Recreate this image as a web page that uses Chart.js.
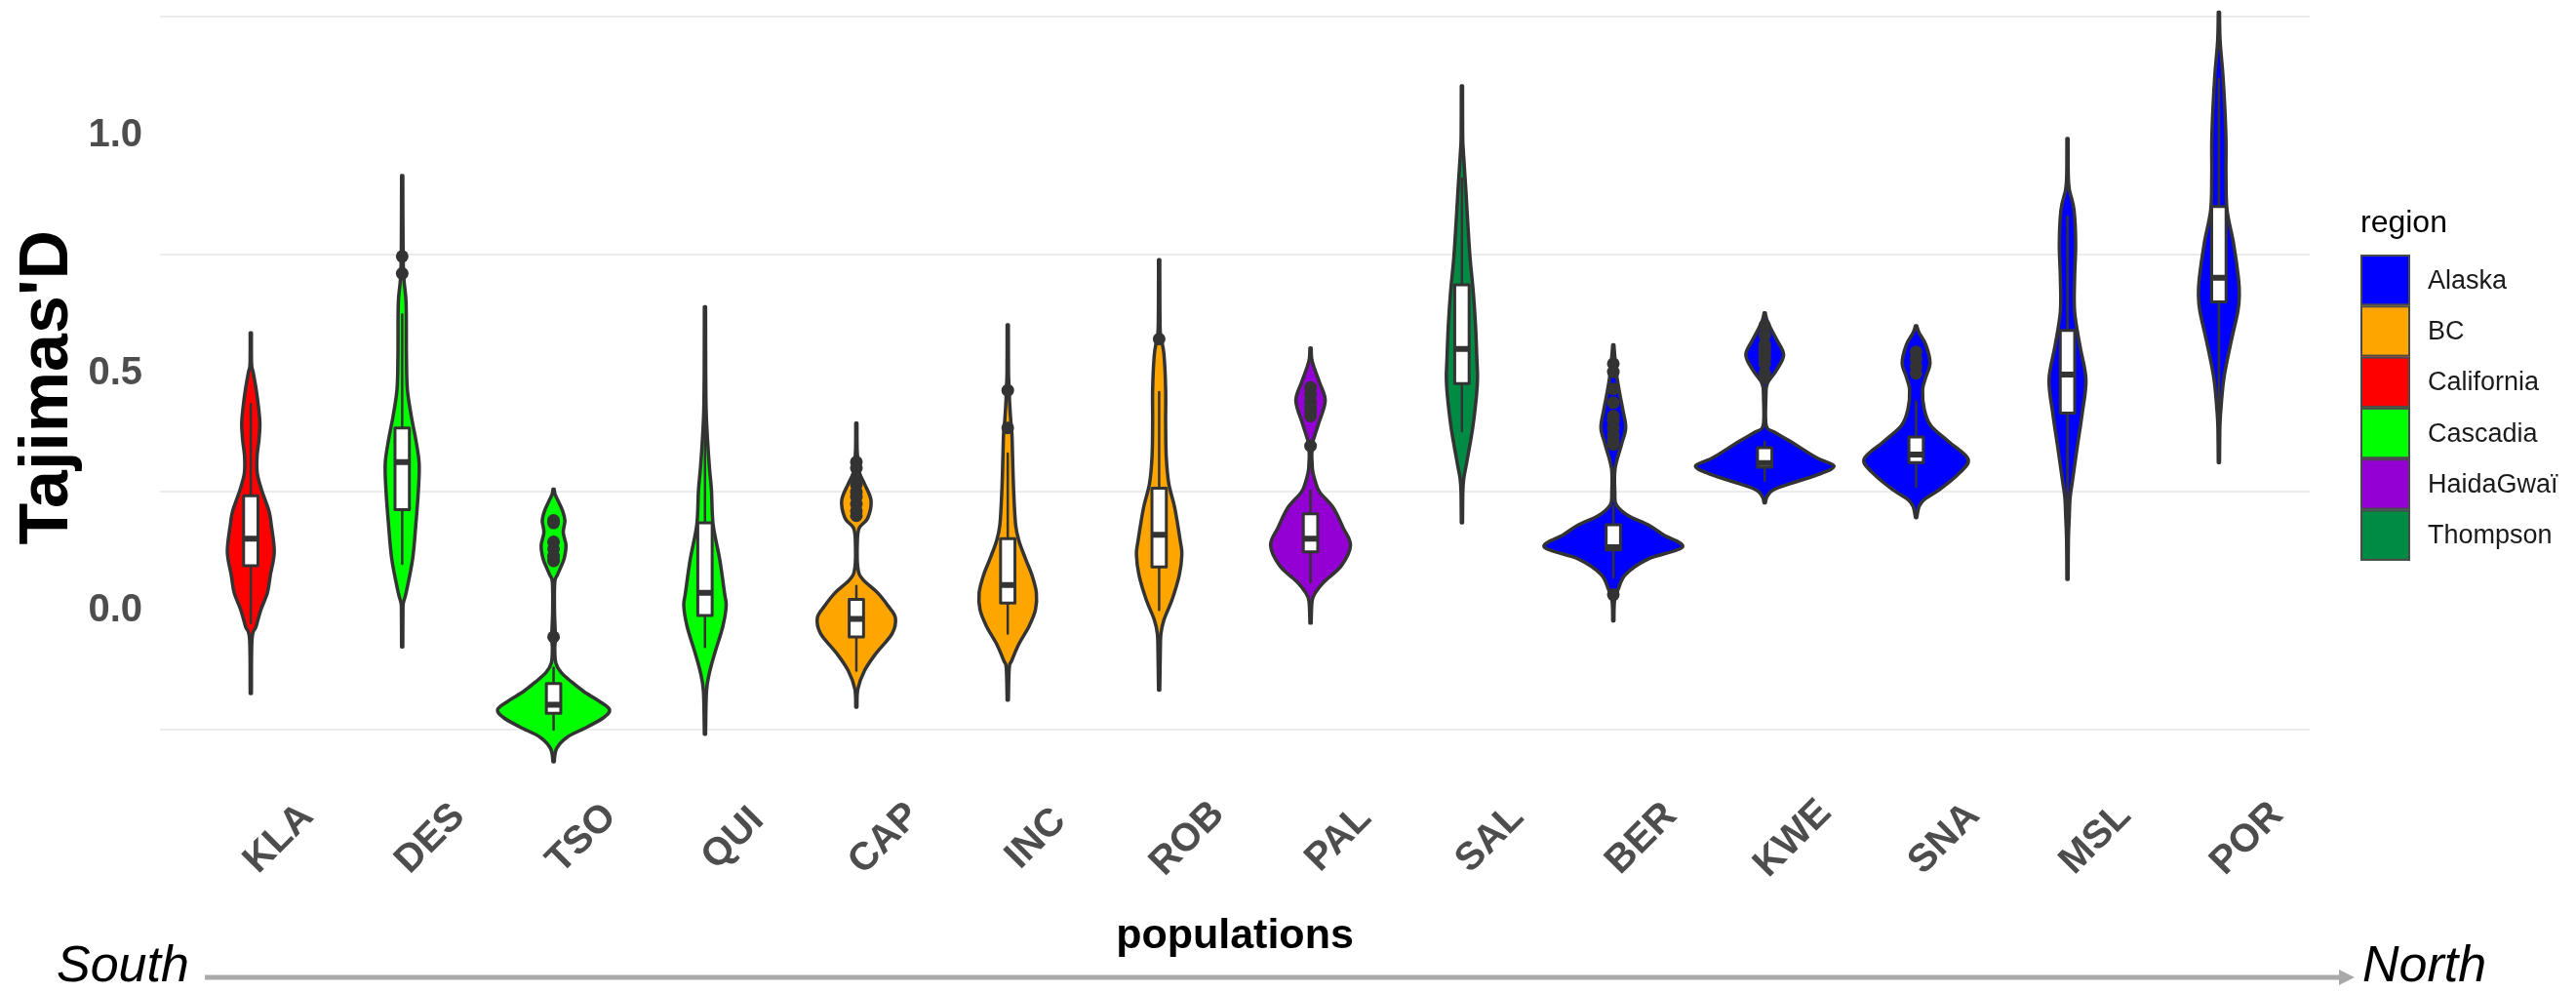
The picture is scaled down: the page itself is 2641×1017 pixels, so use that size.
<!DOCTYPE html>
<html>
<head>
<meta charset="utf-8">
<script src="https://cdn.jsdelivr.net/npm/chart.js@4.4.1/dist/chart.umd.min.js"></script>
<style>
  html, body { margin: 0; padding: 0; background: #ffffff; overflow: hidden; width: 2641px; height: 1017px; }
  #wrap { position: absolute; left: 0; top: -32px; width: 2641px; height: 1049px; }
</style>
</head>
<body>
<div id="wrap"><canvas id="chart" width="2641" height="1049"></canvas></div>
<script>
// ---- categories and groups ----
const populations = ['KLA', 'DES', 'TSO', 'QUI', 'CAP', 'INC', 'ROB', 'PAL', 'SAL', 'BER', 'KWE', 'SNA', 'MSL', 'POR'];
const populationRegion = ['California', 'Cascadia', 'Cascadia', 'Cascadia', 'BC', 'BC', 'BC',
  'HaidaGwaï', 'Thompson', 'Alaska', 'Alaska', 'Alaska', 'Alaska', 'Alaska'];
const regions = ['Alaska', 'BC', 'California', 'Cascadia', 'HaidaGwaï', 'Thompson'];
const regionColors = ['#0000FF', '#FFA500', '#FF0000', '#00FF00', '#9400D3', '#008B45'];

// ---- y axis ----
const yMin = -0.398;
const yMax = 1.338;
const yTickLabels = [0, 0.5, 1.0];
const yGridValues = [-0.25, 0.25, 0.75, 1.25];

// ---- violin outlines: [Tajima's D, half width in category units] ----
const violinKLA = [[-0.174, 0.004], [-0.06, 0.008], [-0.033, 0.035], [0.0025, 0.067], [0.038, 0.11], [0.075, 0.129],
  [0.124, 0.155], [0.181, 0.135], [0.21, 0.12], [0.253, 0.073], [0.289, 0.043], [0.324, 0.041], [0.36, 0.054],
  [0.395, 0.06], [0.431, 0.05], [0.467, 0.035], [0.503, 0.015], [0.52, 0.005], [0.585, 0.004]];
const violinDES = [[-0.076, 0.004], [0.0, 0.005], [0.017, 0.008], [0.038, 0.026], [0.109, 0.069], [0.181, 0.09],
  [0.253, 0.107], [0.31, 0.112], [0.36, 0.09], [0.41, 0.06], [0.467, 0.034], [0.539, 0.028], [0.646, 0.026],
  [0.696, 0.012], [0.75, 0.006], [0.916, 0.004]];
const violinTSO = [[-0.318, 0.004], [-0.29, 0.02], [-0.266, 0.09], [-0.245, 0.22], [-0.225, 0.33], [-0.208, 0.37],
  [-0.19, 0.30], [-0.17, 0.20], [-0.15, 0.12], [-0.13, 0.05], [-0.11, 0.015], [-0.08, 0.008], [-0.055, 0.012],
  [0.0, 0.006], [0.06, 0.008], [0.075, 0.025], [0.09, 0.045], [0.11, 0.07], [0.138, 0.082], [0.165, 0.064],
  [0.19, 0.075], [0.21, 0.06], [0.23, 0.032], [0.245, 0.01], [0.256, 0.004]];
const violinQUI = [[-0.26, 0.004], [-0.17, 0.01], [-0.13, 0.03], [-0.09, 0.064], [-0.033, 0.118], [0.01, 0.14],
  [0.038, 0.129], [0.109, 0.097], [0.181, 0.054], [0.253, 0.043], [0.30, 0.03], [0.36, 0.017], [0.42, 0.008],
  [0.50, 0.005], [0.64, 0.004]];
const violinCAP = [[-0.203, 0.004], [-0.165, 0.01], [-0.126, 0.054], [-0.09, 0.129], [-0.048, 0.236], [-0.015, 0.258],
  [0.01, 0.21], [0.038, 0.14], [0.066, 0.043], [0.09, 0.01], [0.15, 0.007], [0.175, 0.02], [0.195, 0.075],
  [0.232, 0.097], [0.267, 0.054], [0.29, 0.02], [0.313, 0.012], [0.34, 0.005], [0.395, 0.004]];
const violinINC = [[-0.188, 0.004], [-0.12, 0.01], [-0.105, 0.026], [-0.069, 0.075], [-0.033, 0.14], [0.002, 0.183],
  [0.038, 0.189], [0.075, 0.16], [0.109, 0.118], [0.146, 0.075], [0.181, 0.052], [0.253, 0.039], [0.324, 0.032],
  [0.37, 0.028], [0.40, 0.02], [0.44, 0.012], [0.464, 0.01], [0.50, 0.005], [0.602, 0.004]];
const violinROB = [[-0.167, 0.004], [-0.08, 0.008], [-0.048, 0.012], [-0.019, 0.032], [0.024, 0.086], [0.075, 0.133],
  [0.118, 0.15], [0.146, 0.14], [0.217, 0.103], [0.267, 0.064], [0.324, 0.047], [0.395, 0.043], [0.467, 0.043],
  [0.539, 0.032], [0.572, 0.015], [0.60, 0.006], [0.739, 0.004]];
const violinPAL = [[-0.026, 0.004], [0.02, 0.01], [0.038, 0.032], [0.06, 0.086], [0.095, 0.204], [0.138, 0.264],
  [0.175, 0.215], [0.217, 0.15], [0.25, 0.06], [0.274, 0.03], [0.30, 0.012], [0.347, 0.01], [0.367, 0.026],
  [0.395, 0.054], [0.442, 0.097], [0.48, 0.06], [0.51, 0.026], [0.53, 0.008], [0.553, 0.004]];
const violinSAL = [[0.185, 0.004], [0.25, 0.006], [0.278, 0.012], [0.313, 0.032], [0.385, 0.071], [0.456, 0.097],
  [0.492, 0.103], [0.528, 0.099], [0.599, 0.09], [0.671, 0.075], [0.742, 0.054], [0.814, 0.039], [0.885, 0.026],
  [0.964, 0.01], [1.00, 0.005], [1.105, 0.004]];
const violinBER = [[-0.021, 0.004], [0.02, 0.008], [0.046, 0.033], [0.077, 0.082], [0.109, 0.23], [0.134, 0.457],
  [0.16, 0.33], [0.181, 0.23], [0.20, 0.10], [0.223, 0.02], [0.25, 0.01], [0.30, 0.012], [0.35, 0.054],
  [0.385, 0.082], [0.421, 0.064], [0.456, 0.043], [0.49, 0.025], [0.528, 0.012], [0.56, 0.004]];
const violinKWE = [[0.227, 0.004], [0.24, 0.015], [0.254, 0.054], [0.268, 0.172], [0.288, 0.365], [0.305, 0.457],
  [0.322, 0.343], [0.356, 0.172], [0.376, 0.064], [0.39, 0.01], [0.45, 0.008], [0.478, 0.017], [0.505, 0.075],
  [0.539, 0.125], [0.573, 0.075], [0.607, 0.02], [0.627, 0.004]];
const violinSNA = [[0.196, 0.004], [0.22, 0.02], [0.234, 0.054], [0.254, 0.15], [0.288, 0.28], [0.319, 0.344],
  [0.356, 0.215], [0.39, 0.097], [0.424, 0.054], [0.465, 0.043], [0.492, 0.064], [0.522, 0.092], [0.56, 0.064],
  [0.585, 0.02], [0.600, 0.004]];
const violinMSL = [[0.066, 0.004], [0.15, 0.006], [0.20, 0.012], [0.237, 0.017], [0.272, 0.032], [0.344, 0.064],
  [0.415, 0.097], [0.487, 0.122], [0.558, 0.082], [0.63, 0.047], [0.701, 0.047], [0.773, 0.054], [0.844, 0.043],
  [0.887, 0.012], [0.92, 0.005], [0.994, 0.004]];
const violinPOR = [[0.312, 0.004], [0.38, 0.006], [0.415, 0.011], [0.487, 0.032], [0.558, 0.075], [0.63, 0.125],
  [0.665, 0.135], [0.701, 0.129], [0.773, 0.097], [0.844, 0.054], [0.916, 0.047], [0.988, 0.047], [1.059, 0.039],
  [1.13, 0.026], [1.2, 0.008], [1.26, 0.004]];
const violins = [violinKLA, violinDES, violinTSO, violinQUI, violinCAP, violinINC, violinROB,
  violinPAL, violinSAL, violinBER, violinKWE, violinSNA, violinMSL, violinPOR];

// ---- box plot summaries ----
const whiskerLow  = [-0.026, 0.099, -0.25, -0.076, -0.126, -0.048, 0.002, 0.06, 0.378, 0.07, 0.274, 0.261, 0.17, 0.42];
const q1          = [0.095, 0.213, -0.216, -0.010, -0.055, 0.016, 0.092, 0.124, 0.478, 0.128, 0.302, 0.312, 0.416, 0.65];
const medians     = [0.152, 0.313, -0.198, 0.038, -0.017, 0.054, 0.160, 0.152, 0.551, 0.134, 0.311, 0.329, 0.497, 0.701];
const q3          = [0.242, 0.385, -0.153, 0.185, 0.024, 0.152, 0.258, 0.204, 0.686, 0.181, 0.343, 0.366, 0.59, 0.851];
const whiskerHigh = [0.435, 0.624, -0.12, 0.40, 0.052, 0.331, 0.46, 0.253, 0.91, 0.221, 0.356, 0.44, 0.83, 1.12];

// ---- outliers ----
const outliersKLA = [];
const outliersDES = [0.746, 0.71];
const outliersTSO = [0.19, 0.185, 0.145, 0.13, 0.115, 0.105, -0.055];
const outliersQUI = [];
const outliersCAP = [0.313, 0.30, 0.28, 0.265, 0.25, 0.24, 0.225, 0.21, 0.20];
const outliersINC = [0.464, 0.385];
const outliersROB = [0.572];
const outliersPAL = [0.47, 0.455, 0.44, 0.43, 0.42, 0.41, 0.347];
const outliersSAL = [];
const outliersBER = [0.52, 0.503, 0.467, 0.438, 0.41, 0.40, 0.385, 0.37, 0.36, 0.35, 0.034];
const outliersKWE = [0.60, 0.58, 0.56, 0.55, 0.54, 0.53, 0.52, 0.50, 0.49];
const outliersSNA = [0.545, 0.53, 0.515, 0.50];
const outliersMSL = [];
const outliersPOR = [];
const outliers = [outliersKLA, outliersDES, outliersTSO, outliersQUI, outliersCAP, outliersINC, outliersROB,
  outliersPAL, outliersSAL, outliersBER, outliersKWE, outliersSNA, outliersMSL, outliersPOR];

// ---- styling ----
const INK = '#333333';
const FONT = '"Liberation Sans", Arial, Helvetica, sans-serif';
const SHIFT = 32;          // canvas sits 32px above the page top
const BOX_WIDTH = 0.095;   // category units

function fillFor(i) {
  return regionColors[regions.indexOf(populationRegion[i])];
}

// open Catmull-Rom spline through pts (path must already be at pts[0])
function splineThrough(ctx, pts) {
  const n = pts.length;
  for (let i = 0; i < n - 1; i++) {
    const p0 = pts[Math.max(i - 1, 0)], p1 = pts[i], p2 = pts[i + 1], p3 = pts[Math.min(i + 2, n - 1)];
    ctx.bezierCurveTo(
      p1[0] + (p2[0] - p0[0]) / 6, p1[1] + (p2[1] - p0[1]) / 6,
      p2[0] - (p3[0] - p1[0]) / 6, p2[1] - (p3[1] - p1[1]) / 6,
      p2[0], p2[1]);
  }
}

function noScalePadding(scale) {
  scale.paddingTop = 0;
  scale.paddingBottom = 0;
  scale.paddingLeft = 0;
  scale.paddingRight = 0;
}

const violinLayer = {
  id: 'violinLayer',
  beforeDatasetsDraw(chart) {
    const { ctx, chartArea, scales: { x, y } } = chart;
    ctx.save();
    ctx.beginPath();
    ctx.rect(chartArea.left, chartArea.top, chartArea.right - chartArea.left, chartArea.bottom - chartArea.top);
    ctx.clip();
    ctx.lineJoin = 'round';
    ctx.lineCap = 'round';

    // violins
    violins.forEach((prof, i) => {
      const c = i + 1;
      const right = prof.map(([v, w]) => [x.getPixelForValue(c + w), y.getPixelForValue(v)]);
      const left = prof.slice().reverse().map(([v, w]) => [x.getPixelForValue(c - w), y.getPixelForValue(v)]);
      ctx.beginPath();
      ctx.moveTo(right[0][0], right[0][1]);
      splineThrough(ctx, right);
      ctx.lineTo(left[0][0], left[0][1]);
      splineThrough(ctx, left);
      ctx.closePath();
      ctx.fillStyle = fillFor(i);
      ctx.fill();
      ctx.lineWidth = 3.5;
      ctx.strokeStyle = INK;
      ctx.stroke();
    });

    // boxes and whiskers
    populations.forEach((p, i) => {
      const c = i + 1;
      const cx = x.getPixelForValue(c);
      const xl = x.getPixelForValue(c - BOX_WIDTH / 2);
      const xr = x.getPixelForValue(c + BOX_WIDTH / 2);
      const yq1 = y.getPixelForValue(q1[i]);
      const yq3 = y.getPixelForValue(q3[i]);
      ctx.strokeStyle = INK;
      ctx.lineWidth = 2.5;
      ctx.beginPath();
      ctx.moveTo(cx, yq3); ctx.lineTo(cx, y.getPixelForValue(whiskerHigh[i]));
      ctx.moveTo(cx, yq1); ctx.lineTo(cx, y.getPixelForValue(whiskerLow[i]));
      ctx.stroke();
      ctx.fillStyle = '#FFFFFF';
      ctx.fillRect(xl, yq3, xr - xl, yq1 - yq3);
      ctx.lineWidth = 3;
      ctx.strokeRect(xl, yq3, xr - xl, yq1 - yq3);
      ctx.lineWidth = 6;
      ctx.lineCap = 'butt';
      ctx.beginPath();
      const ym = y.getPixelForValue(medians[i]);
      ctx.moveTo(xl, ym); ctx.lineTo(xr, ym);
      ctx.stroke();
      ctx.lineCap = 'round';
    });
    ctx.restore();
  }
};

const decorations = {
  id: 'decorations',
  afterDraw(chart) {
    const { ctx, scales: { x } } = chart;
    ctx.save();

    // rotated population labels
    ctx.font = 'bold 40px ' + FONT;
    ctx.fillStyle = '#4D4D4D';
    ctx.textAlign = 'center';
    ctx.textBaseline = 'middle';
    populations.forEach((p, i) => {
      const px = x.getPixelForValue(i + 1);
      ctx.save();
      ctx.translate(px + 29, 860 + SHIFT);
      ctx.rotate(-Math.PI / 4);
      ctx.fillText(p, 0, 0);
      ctx.restore();
    });

    // legend
    const lx = 2420, ly = 261 + SHIFT, kw = 51, kh = 52.3;
    ctx.textAlign = 'left';
    ctx.fillStyle = '#000000';
    ctx.font = '32px ' + FONT;
    ctx.fillText('region', lx, 229 + SHIFT);
    ctx.font = '27px ' + FONT;
    regions.forEach((r, k) => {
      const top = ly + k * kh;
      ctx.fillStyle = regionColors[k];
      ctx.fillRect(lx, top, kw, kh);
      ctx.strokeStyle = '#4A4A4A';
      ctx.lineWidth = 2;
      ctx.strokeRect(lx + 1, top + 1, kw - 2, kh - 2);
      ctx.fillStyle = '#1A1A1A';
      ctx.fillText(r, 2489, top + kh / 2 + 1);
    });

    // South -> North arrow
    const ay = 1002 + SHIFT;
    ctx.strokeStyle = '#A9A9A9';
    ctx.fillStyle = '#A9A9A9';
    ctx.lineWidth = 5;
    ctx.beginPath();
    ctx.moveTo(210, ay);
    ctx.lineTo(2400, ay);
    ctx.stroke();
    ctx.beginPath();
    ctx.moveTo(2414, ay);
    ctx.lineTo(2398, ay - 8);
    ctx.lineTo(2398, ay + 8);
    ctx.closePath();
    ctx.fill();

    ctx.fillStyle = '#000000';
    ctx.font = 'italic 52px ' + FONT;
    ctx.textBaseline = 'middle';
    ctx.textAlign = 'left';
    ctx.fillText('South', 58, 992 + SHIFT);
    ctx.fillText('North', 2422, 992 + SHIFT);
    ctx.restore();
  }
};

// outliers are drawn by Chart.js as scatter points
const outlierPoints = [];
outliers.forEach((list, i) => list.forEach(v => outlierPoints.push({ x: i + 1, y: v })));

new Chart(document.getElementById('chart'), {
  type: 'scatter',
  data: {
    datasets: [{
      label: 'outliers',
      data: outlierPoints,
      pointRadius: 6.5,
      pointHoverRadius: 6.5,
      pointBackgroundColor: INK,
      pointBorderWidth: 0,
      showLine: false
    }]
  },
  options: {
    responsive: false,
    devicePixelRatio: 1,
    animation: false,
    events: [],
    layout: { padding: { top: 0, left: 0, right: 273, bottom: 31 } },
    plugins: { legend: { display: false }, tooltip: { enabled: false } },
    scales: {
      x: {
        type: 'linear',
        min: 0.4,
        max: 14.6,
        afterBuildTicks(scale) { scale.ticks = populations.map((p, i) => ({ value: i + 1 })); },
        afterFit(scale) { scale.height = 166; noScalePadding(scale); },
        grid: { display: false },
        border: { display: false },
        ticks: { display: false },
        title: {
          display: true,
          text: 'populations',
          color: '#000000',
          font: { family: FONT, size: 43, weight: 'bold' },
          padding: { top: 0, bottom: 0 }
        }
      },
      y: {
        type: 'linear',
        min: yMin,
        max: yMax,
        afterBuildTicks(scale) {
          scale.ticks = yGridValues.concat(yTickLabels).sort((a, b) => a - b).map(v => ({ value: v }));
        },
        afterFit(scale) { scale.width = 164; noScalePadding(scale); },
        grid: {
          drawTicks: false,
          lineWidth: 2,
          color(ctx) { return yGridValues.includes(ctx.tick && ctx.tick.value) ? '#EBEBEB' : 'rgba(0,0,0,0)'; }
        },
        border: { display: false },
        ticks: {
          padding: 18,
          color: '#4D4D4D',
          font: { family: FONT, size: 40, weight: 'bold' },
          callback(v) { return yTickLabels.includes(v) ? v.toFixed(1) : ''; }
        },
        title: {
          display: true,
          text: "Tajimas'D",
          color: '#000000',
          font: { family: FONT, size: 70, weight: 'bold' },
          padding: { top: 8, bottom: 0 }
        }
      }
    }
  },
  plugins: [violinLayer, decorations]
});
</script>
</body>
</html>
